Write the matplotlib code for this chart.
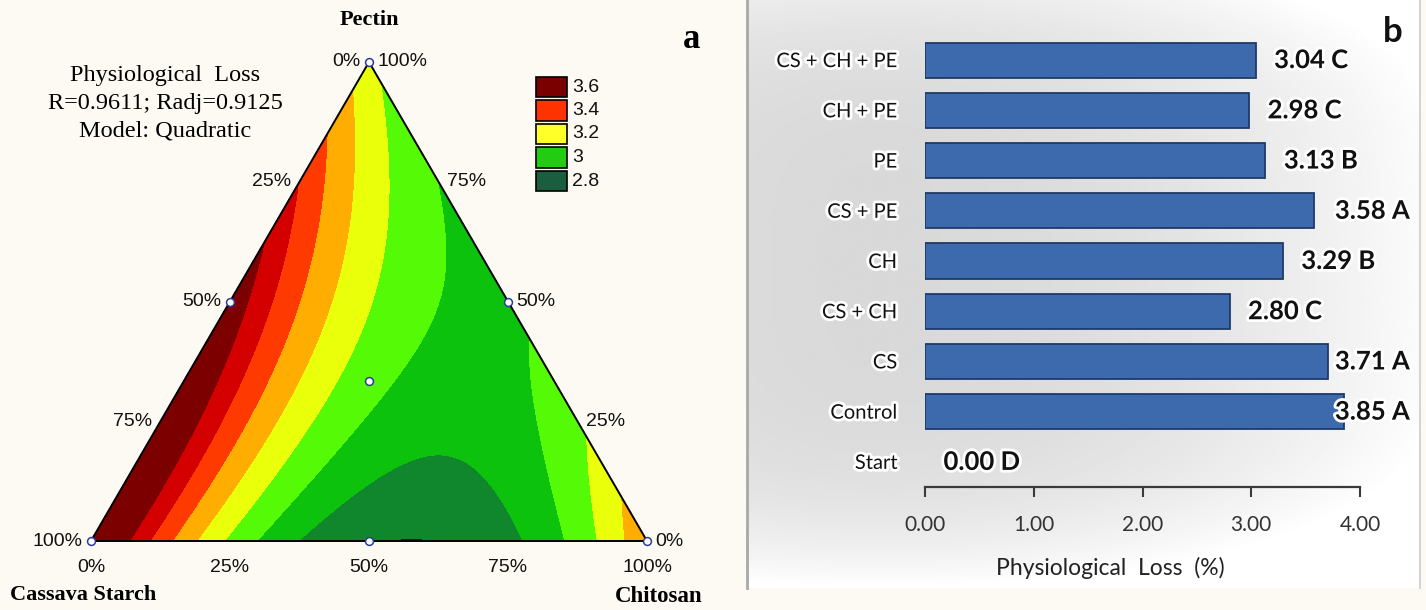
import numpy as np
import matplotlib
matplotlib.use("Agg")
import matplotlib.pyplot as plt
import matplotlib.tri as mtri
from matplotlib.patches import Rectangle
import matplotlib.patheffects as pe

# Physiological loss (%) per coating treatment (panel b)
treatments = ['Start', 'Control', 'CS', 'CS + CH', 'CH', 'CS + PE', 'PE', 'CH + PE', 'CS + CH + PE']
loss = [0.00, 3.85, 3.71, 2.80, 3.29, 3.58, 3.13, 2.98, 3.04]
groups = ['D', 'A', 'A', 'C', 'B', 'A', 'B', 'C', 'C']

# mixture design (fractions of cassava starch, chitosan, pectin) for panel a
mix_names = ['CS', 'CH', 'PE', 'CS + CH', 'CS + PE', 'CH + PE', 'CS + CH + PE']
mix_cs = [1, 0, 0, 0.5, 0.5, 0, 1/3]
mix_ch = [0, 1, 0, 0.5, 0, 0.5, 1/3]
mix_pe = [0, 0, 1, 0, 0.5, 0.5, 1/3]

levels = [2.6, 2.79, 2.9, 3.0, 3.1, 3.2, 3.3, 3.4, 3.5, 4.0]
level_colors = ['#0b2d12', '#10872c', '#0cc20c', '#55fb06', '#eaff0a', '#ffad00',
                '#ff3a00', '#d40000', '#7c0000']
legend_vals = ['3.6', '3.4', '3.2', '3', '2.8']
legend_colors = ['#7a0000', '#ff3300', '#ffff2a', '#22cc11', '#1a5e3e']
pct = ['0%', '25%', '50%', '75%', '100%']

W, H = 1426, 610
fig = plt.figure(figsize=(W / 100, H / 100), dpi=100, facecolor='#fdfaf3')


def box(x0, y0, x1, y1):
    return [x0 / W, 1 - y1 / H, (x1 - x0) / W, (y1 - y0) / H]


# ---------------- panel a: ternary contour (Scheffe quadratic model) ----------------
x1 = np.array(mix_cs); x2 = np.array(mix_ch); x3 = np.array(mix_pe)
resp = np.array([loss[treatments.index(n)] for n in mix_names])
X = np.column_stack([x1, x2, x3, x1 * x2, x1 * x3, x2 * x3])
coef, *_ = np.linalg.lstsq(X, resp, rcond=None)

n = 160
ch_g, pe_g = [], []
for i in range(n + 1):
    for j in range(n + 1 - i):
        ch_g.append(j / n)
        pe_g.append(i / n)
ch_g = np.array(ch_g); pe_g = np.array(pe_g)
cs_g = np.clip(1 - ch_g - pe_g, 0, 1)
Z = (coef[0] * cs_g + coef[1] * ch_g + coef[2] * pe_g + coef[3] * cs_g * ch_g
     + coef[4] * cs_g * pe_g + coef[5] * ch_g * pe_g)
tri = mtri.Triangulation(ch_g + pe_g / 2, pe_g)

tax = fig.add_axes(box(91, 62, 647, 541))
tax.set_xlim(0, 1)
tax.set_ylim(0, 1)
tax.set_axis_off()
tax.tricontourf(tri, Z, levels=levels, colors=level_colors)
tax.plot([0, 1, 0.5, 0], [0, 0, 1, 0], color='black', lw=1.4, clip_on=False)
mx = np.array(mix_ch) + np.array(mix_pe) / 2
tax.scatter(mx, mix_pe, s=32, facecolor='white', edgecolor='#2b3c9c', lw=1.1,
            zorder=5, clip_on=False)

tk = dict(fontsize=14, family='Liberation Sans', color='#111111')
fr = np.array([0, 0.25, 0.5, 0.75, 1.0])
# bottom edge: chitosan
for f, lab in zip(fr, pct):
    tax.annotate(lab, (f, 0), xytext=(0, -19), textcoords='offset points',
                 ha='center', va='center', annotation_clip=False, **tk)
# left edge: cassava starch
for f, lab in zip(fr, pct):
    tax.annotate(lab, ((1 - f) / 2, 1 - f), xytext=(-6, 0), textcoords='offset points',
                 ha='right', va='center', annotation_clip=False, **tk)
# right edge: pectin
for f, lab in zip(fr, pct):
    tax.annotate(lab, (1 - f / 2, f), xytext=(6, 0), textcoords='offset points',
                 ha='left', va='center', annotation_clip=False, **tk)

serif = 'Liberation Serif'
fig.text(369 / W, 1 - 20 / H, 'Pectin', ha='center', va='center', fontsize=16,
         family=serif, weight='bold')
fig.text(10 / W, 1 - 595 / H, 'Cassava Starch', ha='left', va='center', fontsize=16,
         family=serif, weight='bold')
fig.text(702 / W, 1 - 597 / H, 'Chitosan', ha='right', va='center', fontsize=16.5,
         family=serif, weight='bold')
fig.text(692 / W, 1 - 40 / H, 'a', ha='center', va='center', fontsize=25,
         family=serif, weight='bold')
for yy, s in zip([75, 103, 131], ['Physiological  Loss', 'R=0.9611; Radj=0.9125',
                                  'Model: Quadratic']):
    fig.text(165 / W, 1 - yy / H, s, ha='center', va='center', fontsize=17.5, family=serif)

for k, (lab, col) in enumerate(zip(legend_vals, legend_colors)):
    yc = 87 + k * 23.5
    fig.add_artist(Rectangle((536 / W, 1 - (yc + 10) / H), 31 / W, 20 / H,
                             facecolor=col, edgecolor='black', lw=1.2,
                             transform=fig.transFigure))
    fig.text(572 / W, 1 - yc / H, lab, ha='left', va='center', fontsize=14,
             family='Liberation Sans', color='#111111')

# ---------------- panel b: horizontal bars ----------------
bg = fig.add_axes(box(747, 0, 1420, 588))
gx, gy = np.meshgrid(np.linspace(0, 1, 300), np.linspace(0, 1, 300))
grad = 0.85 + 0.15 * np.clip(((gx - 0.2) / 0.85) ** 2 + ((gy - 0.45) / 0.55) ** 4, 0, 1)
bg.imshow(grad, cmap='gray', vmin=0, vmax=1, aspect='auto', extent=[0, 1, 0, 1])
bg.set_xticks([]); bg.set_yticks([])
for side in ['top', 'bottom']:
    bg.spines[side].set_visible(False)
bg.spines['left'].set_color('#a8a8a8'); bg.spines['left'].set_linewidth(2)
bg.spines['right'].set_color('#d5d5d5'); bg.spines['right'].set_linewidth(1.5)

bax = fig.add_axes(box(925, 35, 1360, 487))
bax.patch.set_alpha(0)
ypos = np.arange(len(treatments))
bax.barh(ypos, loss, height=0.70, color='#3c6aad', edgecolor='#1e3b68',
         lw=[1.3 if v > 0 else 0 for v in loss])
bax.set_xlim(0, 4)
bax.set_ylim(-0.5, len(treatments) - 0.5)
for s in ['top', 'right', 'left']:
    bax.spines[s].set_visible(False)
bax.spines['bottom'].set_color('#3a3a3a')
bax.spines['bottom'].set_linewidth(1.6)
bax.set_xticks([0, 1, 2, 3, 4])
bax.set_xticklabels([f'{v:.2f}' for v in [0, 1, 2, 3, 4]], fontsize=15,
                    family='Lato', color='#333333')
bax.tick_params(axis='x', direction='out', length=7, width=1.5, color='#3a3a3a', pad=13)
bax.set_yticks(ypos)
bax.set_yticklabels(treatments, fontsize=14.5, family='Lato', color='#111111')
bax.tick_params(axis='y', length=0, pad=20)
bax.set_xlabel('Physiological  Loss  (%)', fontsize=16.5, family='Lato', color='#222222')
bax.xaxis.set_label_coords((1110 - 925) / 435, -0.155)

glow = [pe.withStroke(linewidth=4, foreground='white')]
for lab in bax.get_yticklabels():
    lab.set_path_effects(glow)
for y, v, g in zip(ypos, loss, groups):
    if v + 0.17 > 3.6:
        x, ha = 4.46, 'right'
    else:
        x, ha = v + 0.17, 'left'
    bax.text(x, y, f'{v:.2f} {g}', ha=ha, va='center', fontsize=18.5, family='Lato',
             weight='bold', color='#111111', path_effects=glow, clip_on=False)

fig.text(1393 / W, 1 - 32 / H, 'b', ha='center', va='center', fontsize=25,
         family='Lato', weight='bold', color='#111111')

fig.savefig('out.png', dpi=100, facecolor=fig.get_facecolor())
